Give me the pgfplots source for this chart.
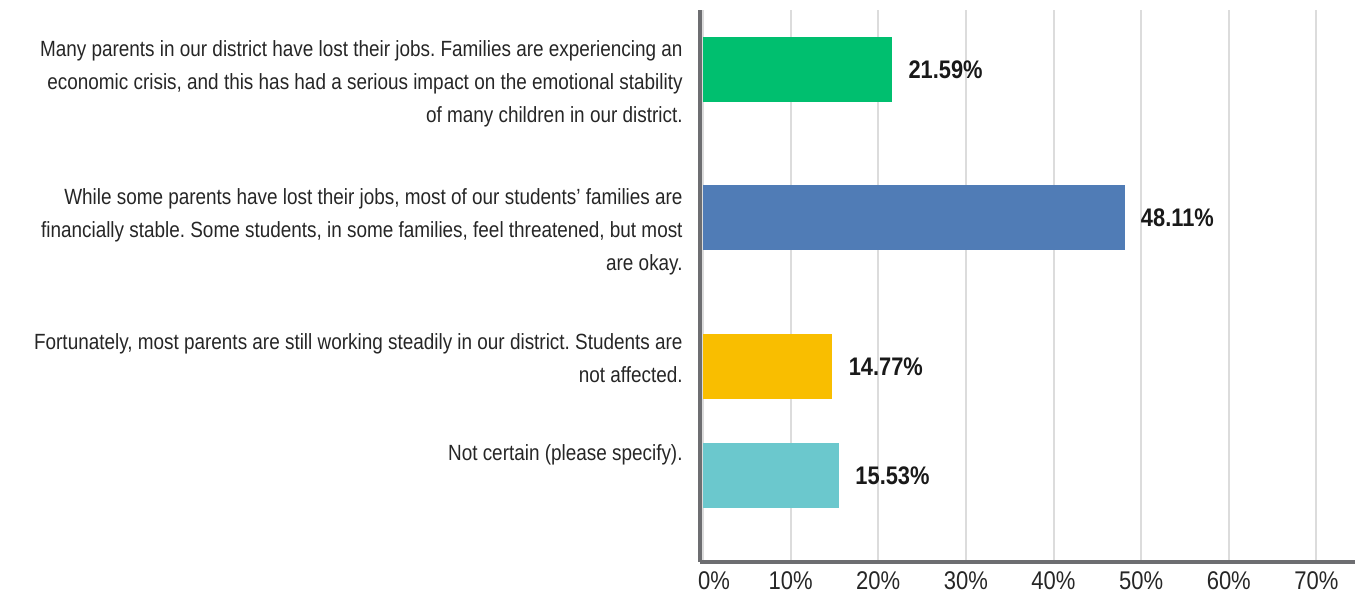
\documentclass[border=0pt]{standalone}
\usepackage{fontspec}
\setmainfont{Liberation Sans}[FakeStretch=0.86]
\usepackage{pgfplots}
\pgfplotsset{compat=1.18}
\frenchspacing

\definecolor{smgreen}{HTML}{00BF6F}
\definecolor{smblue}{HTML}{507CB6}
\definecolor{smyellow}{HTML}{F9BE00}
\definecolor{smteal}{HTML}{6BC8CD}
\definecolor{axisgray}{HTML}{6D6E71}
\definecolor{gridgray}{HTML}{DCDCDC}

\tikzset{lbl/.style={anchor=north east, align=right, inner sep=0pt, xshift=-8.5pt,
    font=\fontsize{11}{16.5}\selectfont, text=black!85}}

% 1 px of the reference = 0.5pt; y values are (562 - pixel row)
\begin{document}
\begin{tikzpicture}
\begin{axis}[
  scale only axis, width=327.5pt, height=276pt,
  xmin=-0.34, xmax=74.4, ymin=0, ymax=552,
  clip=false,
  axis x line*=bottom, axis y line*=left,
  x axis line style={-, draw=axisgray, line width=2pt},
  y axis line style={-, draw=axisgray, line width=2pt},
  xtick={0,10,...,70},
  xticklabels={\kern11pt0\%,10\%,20\%,30\%,40\%,50\%,60\%,70\%},
  ytick=\empty,
  major tick length=0pt,
  xmajorgrids, grid style={gridgray, line width=1pt},
  xticklabel style={font=\fontsize{12.8}{15}\selectfont, text=black!85, inner sep=2pt, yshift=-2.5pt},
  every node near coord/.append style={font=\fontsize{12.7}{14}\selectfont\bfseries,
    text=black!90, anchor=west, inner sep=0pt, xshift=8pt},
  point meta=explicit symbolic,
  nodes near coords={\pgfplotspointmeta},
]
\addplot[xbar, bar shift=0pt, bar width=65, fill=smgreen, draw=none]
  coordinates {(21.59,492) [21.59\%]};
\addplot[xbar, bar shift=0pt, bar width=65, fill=smblue, draw=none]
  coordinates {(48.11,344) [48.11\%]};
\addplot[xbar, bar shift=0pt, bar width=65, fill=smyellow, draw=none]
  coordinates {(14.77,195) [14.77\%]};
\addplot[xbar, bar shift=0pt, bar width=65, fill=smteal, draw=none]
  coordinates {(15.53,86) [15.53\%]};

\node[lbl] at (axis cs:-0.34,522) {Many parents in our district have lost their jobs. Families are experiencing an\\economic crisis, and this has had a serious impact on the emotional stability\\of many children in our district.};
\node[lbl] at (axis cs:-0.34,374) {While some parents have lost their jobs, most of our students' families are\\financially stable. Some students, in some families, feel threatened, but most\\are okay.};
\node[lbl] at (axis cs:-0.34,229) {Fortunately, most parents are still working steadily in our district. Students are\\not affected.};
\node[lbl] at (axis cs:-0.34,118) {Not certain (please specify).};

\coordinate (ll) at (rel axis cs:0,0);
\end{axis}
\pgfresetboundingbox
\path ([shift={(-350pt,-18pt)}]ll) rectangle ([shift={(327.5pt,281pt)}]ll);
\end{tikzpicture}
\end{document}
